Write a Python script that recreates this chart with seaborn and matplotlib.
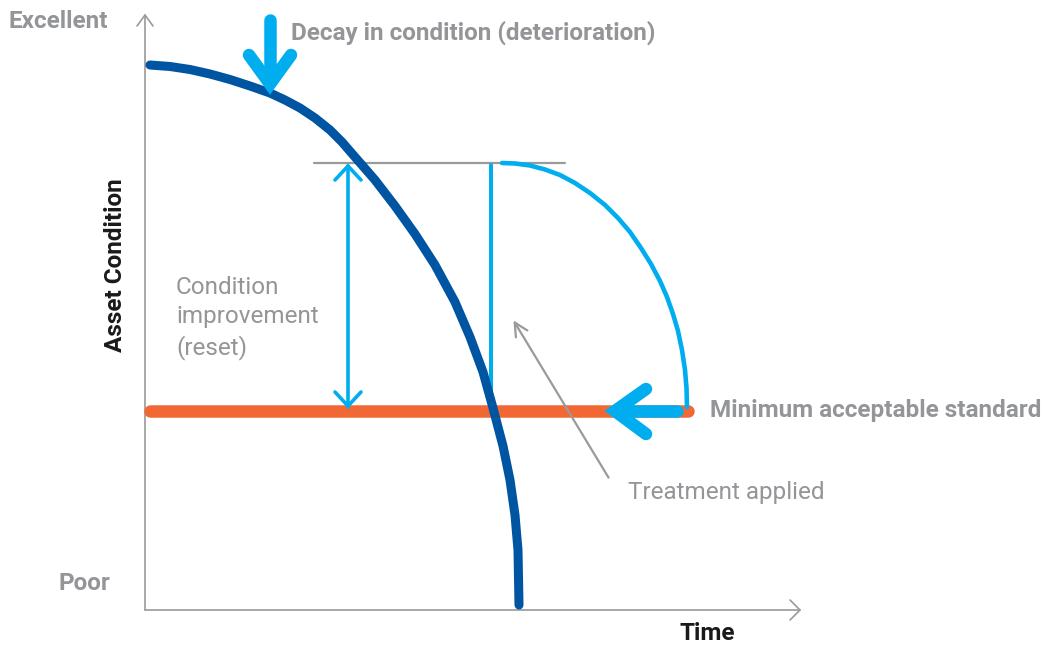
import matplotlib
matplotlib.use("Agg")
import matplotlib.pyplot as plt
import seaborn as sns
import pandas as pd

sns.set_theme(style="white")
plt.rcParams['font.family'] = ['Roboto', 'DejaVu Sans']

# ---- data (time, condition) ----
decay_time = [5, 25, 45, 65, 85, 105, 125, 140, 155, 170, 185, 197, 210, 230, 250,
              270, 290, 310, 325, 338, 348, 358, 365, 370, 373, 374]
decay_cond = [545, 543.5, 540.5, 536, 530.5, 524, 517, 510, 502, 492, 480, 468, 453,
              430, 404, 376, 345, 308, 273, 238, 202, 164, 130, 95, 60, 5]

reset_time = [357, 370, 385, 400, 415, 430, 445, 460, 473, 485, 496, 506, 515, 522,
              528, 533, 537, 540, 541.5, 542]
reset_cond = [447, 446.5, 444.5, 440.5, 435, 427, 417, 405, 392, 378, 362, 346, 329,
              313, 296, 279, 260, 240, 222, 203]

min_standard = 199
min_time = [5, 543]
reset_level = 447
reset_line_time = [169, 420]
treatment_time = 346
improvement_time = 203

GRAY = "#939598"
AXGRAY = "#9a9a9a"
DARK = "#0055A3"
LIGHT = "#00AEEF"
ORANGE = "#F26834"

fig = plt.figure(figsize=(10.44, 6.45), dpi=100)
ax = fig.add_axes([0, 0, 1, 1])
ax.set_xlim(-145, 899)
ax.set_ylim(-35, 610)
ax.axis("off")

# axes with open arrowheads
ax.plot([0, 0], [0, 595], color=AXGRAY, lw=1.2)
ax.plot([-8, 0, 8], [584, 595, 584], color=AXGRAY, lw=1.2)
ax.plot([0, 655], [0, 0], color=AXGRAY, lw=1.2)
ax.plot([645, 655, 645], [10, 0, -10], color=AXGRAY, lw=1.2)

# minimum standard line
sns.lineplot(x=min_time, y=[min_standard] * 2, ax=ax, color=ORANGE, lw=9,
             solid_capstyle="round")

# reset level line
sns.lineplot(x=reset_line_time, y=[reset_level] * 2, ax=ax, color=AXGRAY, lw=1.6)

# treatment vertical
ax.plot([treatment_time] * 2, [reset_level - 2, min_standard], color=LIGHT, lw=2.9,
        solid_capstyle="round")

# reset curve
df_r = pd.DataFrame({"t": reset_time, "c": reset_cond})
sns.lineplot(data=df_r, x="t", y="c", ax=ax, color=LIGHT, lw=3.3, sort=False,
             estimator=None, solid_capstyle="round", solid_joinstyle="round")

# decay curve
df_d = pd.DataFrame({"t": decay_time, "c": decay_cond})
sns.lineplot(data=df_d, x="t", y="c", ax=ax, color=DARK, lw=6.5, sort=False,
             estimator=None, solid_capstyle="round", solid_joinstyle="round")

# double-headed improvement arrow
ax.plot([improvement_time] * 2, [reset_level - 3, min_standard + 4], color=LIGHT, lw=2.6)
ax.plot([improvement_time - 13, improvement_time, improvement_time + 13],
        [reset_level - 17, reset_level - 3, reset_level - 17], color=LIGHT, lw=2.6,
        solid_capstyle="round", solid_joinstyle="miter")
ax.plot([improvement_time - 13, improvement_time, improvement_time + 13],
        [min_standard + 19, min_standard + 5, min_standard + 19], color=LIGHT, lw=2.6,
        solid_capstyle="round", solid_joinstyle="miter")

# big down arrow (decay)
ax.plot([125, 125], [590, 528], color=LIGHT, lw=9, solid_capstyle="round")
ax.plot([104, 125, 146], [555, 526, 555], color=LIGHT, lw=9,
        solid_capstyle="round", solid_joinstyle="miter")

# big left arrow (min standard)
ax.plot([532, 472], [min_standard, min_standard], color=LIGHT, lw=9, solid_capstyle="round")
ax.plot([501, 470, 501], [min_standard + 22, min_standard, min_standard - 23], color=LIGHT,
        lw=9, solid_capstyle="round", solid_joinstyle="miter")

# treatment annotation arrow
ax.annotate("", xy=(367, 292), xytext=(465, 130),
            arrowprops=dict(arrowstyle="->,head_length=0.8,head_width=0.4",
                            color=AXGRAY, lw=1.6))

# texts
FS = 17.5
bold = dict(fontweight="bold", color=GRAY, fontsize=FS)
ax.text(-137, 588, "Excellent", ha="left", va="center", **bold)
ax.text(-35, 27, "Poor", ha="right", va="center", **bold)
ax.text(146, 577, "Decay in condition (deterioration)", ha="left", va="center", **bold)
ax.text(565, 200, "Minimum acceptable standard", ha="left", va="center", **bold)
ax.text(-30, 345, "Asset Condition", ha="center", va="center", rotation=90,
        fontweight="bold", color="#1a1a1a", fontsize=FS)
ax.text(562, -23, "Time", ha="center", va="center", fontweight="bold",
        color="#1a1a1a", fontsize=FS)
for txt, yy in zip(["Condition", "improvement", "(reset)"], [323, 293, 262]):
    ax.text(31, yy, txt, ha="left", va="center", color=GRAY, fontsize=FS)
ax.text(483, 118, "Treatment applied", ha="left", va="center", color=GRAY, fontsize=FS)

fig.savefig("out.png", dpi=100)
